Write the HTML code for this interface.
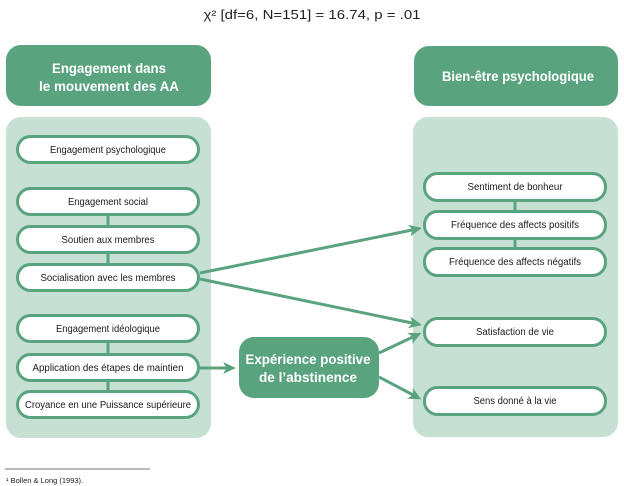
<!DOCTYPE html>
<html><head><meta charset="utf-8"><style>
html,body{margin:0;padding:0;background:#fff;}
svg{display:block;}
text{font-family:"Liberation Sans",sans-serif;}
</style></head><body>
<svg width="624" height="486" viewBox="0 0 624 486" xmlns="http://www.w3.org/2000/svg">
<defs>
<marker id="ah" markerUnits="userSpaceOnUse" markerWidth="16" markerHeight="14" refX="8" refY="6" orient="auto">
<path d="M0,0 L13,6 L0,12 L3.5,6 Z" fill="#5aa37f"/>
</marker>
</defs>
<!-- title -->
<text x="312" y="19" font-size="13" text-anchor="middle" fill="#231f20" textLength="217" lengthAdjust="spacingAndGlyphs">χ² [df=6, N=151] = 16.74, p = .01</text>

<!-- headers -->
<rect x="6" y="45" width="205" height="61" rx="15" fill="#5aa37f"/>
<text x="109" y="73" font-size="14" font-weight="bold" fill="#fff" text-anchor="middle" textLength="114" lengthAdjust="spacingAndGlyphs">Engagement dans</text>
<text x="109" y="91" font-size="14" font-weight="bold" fill="#fff" text-anchor="middle" textLength="140" lengthAdjust="spacingAndGlyphs">le mouvement des AA</text>
<rect x="414" y="46" width="204" height="60" rx="15" fill="#5aa37f"/>
<text x="518" y="81" font-size="14" font-weight="bold" fill="#fff" text-anchor="middle" textLength="152" lengthAdjust="spacingAndGlyphs">Bien-être psychologique</text>

<!-- panels -->
<rect x="6" y="117" width="205" height="321" rx="15" fill="#c6e1d3"/>
<rect x="413" y="117" width="205" height="320" rx="15" fill="#c6e1d3"/>

<!-- connectors between stacked boxes -->
<g stroke="#5aa37f" stroke-width="3">
<line x1="108" y1="214" x2="108" y2="227"/>
<line x1="108" y1="252" x2="108" y2="265"/>
<line x1="108" y1="341" x2="108" y2="355"/>
<line x1="108" y1="380" x2="108" y2="392"/>
<line x1="515" y1="200" x2="515" y2="212"/>
<line x1="515" y1="238" x2="515" y2="249"/>
</g>

<!-- left boxes -->
<g fill="#fff" stroke="#5aa37f" stroke-width="3">
<rect x="17.5" y="136.5" width="181" height="26" rx="13"/>
<rect x="17.5" y="188.5" width="181" height="26" rx="13"/>
<rect x="17.5" y="226.5" width="181" height="26" rx="13"/>
<rect x="17.5" y="264.5" width="181" height="26" rx="13"/>
<rect x="17.5" y="315.5" width="181" height="26" rx="13"/>
<rect x="17.5" y="354.5" width="181" height="26" rx="13"/>
<rect x="17.5" y="391.5" width="181" height="26" rx="13"/>
<!-- right boxes -->
<rect x="424.5" y="173.5" width="181" height="27" rx="13"/>
<rect x="424.5" y="211.5" width="181" height="27" rx="13"/>
<rect x="424.5" y="248.5" width="181" height="27" rx="13"/>
<rect x="424.5" y="318.5" width="181" height="27" rx="13"/>
<rect x="424.5" y="387.5" width="181" height="27" rx="13"/>
</g>

<g font-size="10" fill="#1a1a1a" text-anchor="middle">
<text x="108" y="153" textLength="116" lengthAdjust="spacingAndGlyphs">Engagement psychologique</text>
<text x="108" y="205" textLength="80" lengthAdjust="spacingAndGlyphs">Engagement social</text>
<text x="108" y="243" textLength="93" lengthAdjust="spacingAndGlyphs">Soutien aux membres</text>
<text x="108" y="281" textLength="135" lengthAdjust="spacingAndGlyphs">Socialisation avec les membres</text>
<text x="108" y="332" textLength="104" lengthAdjust="spacingAndGlyphs">Engagement idéologique</text>
<text x="108" y="371" textLength="151" lengthAdjust="spacingAndGlyphs">Application des étapes de maintien</text>
<text x="108" y="408" textLength="166" lengthAdjust="spacingAndGlyphs">Croyance en une Puissance supérieure</text>

<text x="515" y="190" textLength="95" lengthAdjust="spacingAndGlyphs">Sentiment de bonheur</text>
<text x="515" y="228" textLength="128" lengthAdjust="spacingAndGlyphs">Fréquence des affects positifs</text>
<text x="515" y="265" textLength="132" lengthAdjust="spacingAndGlyphs">Fréquence des affects négatifs</text>
<text x="515" y="335" textLength="78" lengthAdjust="spacingAndGlyphs">Satisfaction de vie</text>
<text x="515" y="404" textLength="83" lengthAdjust="spacingAndGlyphs">Sens donné à la vie</text>
</g>

<!-- middle box -->
<rect x="239" y="337" width="140" height="61" rx="15" fill="#5aa37f"/>
<text x="308" y="364" font-size="14" font-weight="bold" fill="#fff" text-anchor="middle" textLength="125" lengthAdjust="spacingAndGlyphs">Expérience positive</text>
<text x="308" y="382" font-size="14" font-weight="bold" fill="#fff" text-anchor="middle" textLength="98" lengthAdjust="spacingAndGlyphs">de l’abstinence</text>

<!-- arrows -->
<g stroke="#5aa37f" stroke-width="3" fill="none" marker-end="url(#ah)">
<line x1="200" y1="273" x2="417" y2="229"/>
<line x1="200" y1="279" x2="417" y2="324"/>
<line x1="200" y1="368" x2="231" y2="368"/>
<line x1="379" y1="353" x2="417" y2="335"/>
<line x1="379" y1="377" x2="417" y2="397"/>
</g>

<!-- footnote -->
<line x1="5" y1="469" x2="150" y2="469" stroke="#444" stroke-width="0.8"/>
<text x="6" y="483" font-size="7.5" fill="#1a1a1a">¹ Bollen &amp; Long (1993).</text>
</svg>
</body></html>
